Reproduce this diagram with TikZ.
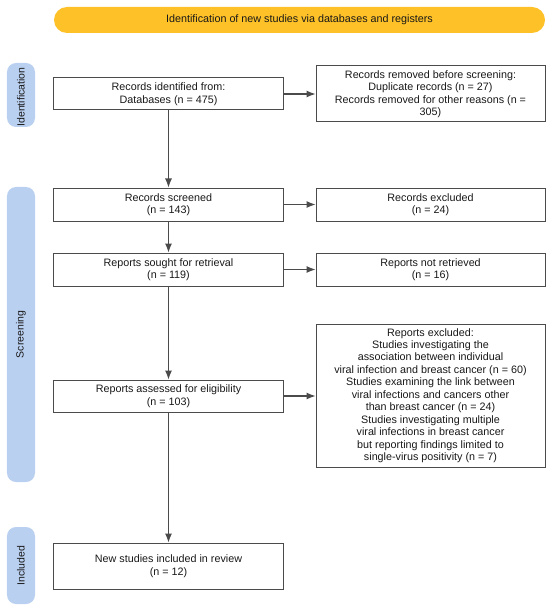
\documentclass[tikz,border=0pt]{standalone}
\usepackage{fontspec}
\setmainfont{Liberation Sans}
\usetikzlibrary{arrows.meta}
\definecolor{bannerc}{RGB}{254,193,39}
\definecolor{labc}{RGB}{186,208,240}
\definecolor{linec}{RGB}{75,75,75}
\definecolor{txtc}{RGB}{25,25,25}
\tikzset{
  box/.style={draw=linec, line width=1bp, fill=white, minimum width=229bp, inner sep=1bp,
    align=center, text=txtc, font=\fontsize{10.8}{12.5}\selectfont},
  sidelab/.style={fill=labc, rounded corners=9bp, minimum width=28bp, inner sep=0pt},
  sidetxt/.style={rotate=90, text=txtc, font=\fontsize{10.5}{12}\selectfont},
  arr/.style={draw=linec, line width=1.1bp, -{Latex[length=9bp,width=7bp]}}
}
\begin{document}
\begin{tikzpicture}[x=1bp,y=-1bp]
\useasboundingbox (0,0) rectangle (550,611);
\node[fill=bannerc, rounded corners=13bp, minimum width=491bp, minimum height=26bp, inner sep=0pt,
  text=txtc, font=\fontsize{10.8}{12}\selectfont] (banner) at (299.5,20)
  {Identification of new studies via databases and registers};
\node[sidelab, minimum height=64bp] (idlab) at (21,95) {};
\begin{scope}
\clip[rounded corners=9bp] (idlab.south west) rectangle (idlab.north east);
\node[sidetxt] (idtxt) at ([yshift=-2bp]idlab.center) {Identification};
\end{scope}
\node[sidelab, minimum height=295bp] (sclab) at (21,334.5) {};
\node[sidetxt] (sctxt) at (sclab.center) {Screening};
\node[sidelab, minimum height=77bp] (inlab) at (21,565.5) {};
\node[sidetxt] (intxt) at (inlab.center) {Included};

\node[box, minimum height=32bp] (b1) at (168.5,94) {Records identified from:\\Databases (n = 475)};
\node[box, minimum height=56bp] (r1) at (430.5,94) {Records removed before screening:\\Duplicate records (n = 27)\\Records removed for other reasons (n =\\305)};
\node[box, minimum height=33bp] (b2) at (168.5,204.5) {Records screened\\(n = 143)};
\node[box, minimum height=33bp] (r2) at (430.5,204.5) {Records excluded\\(n = 24)};
\node[box, minimum height=33bp] (b3) at (168.5,269.5) {Reports sought for retrieval\\(n = 119)};
\node[box, minimum height=33bp] (r3) at (430.5,269.5) {Reports not retrieved\\(n = 16)};
\node[box, minimum height=32bp] (b4) at (168.5,396) {Reports assessed for eligibility\\(n = 103)};
\node[box, minimum height=143bp] (r4) at (430.5,395.5) {Reports excluded:\\Studies investigating the\\association between individual\\viral infection and breast cancer (n = 60)\\Studies examining the link between\\viral infections and cancers other\\than breast cancer (n = 24)\\Studies investigating multiple\\viral infections in breast cancer\\but reporting findings limited to\\single-virus positivity (n = 7)};
\node[box, minimum height=46bp] (b5) at (168.5,566) {New studies included in review\\(n = 12)};

\draw[arr] (b1) -- (b2);
\draw[arr] (b2) -- (b3);
\draw[arr] (b3) -- (b4);
\draw[arr] (b4) -- (b5);
\draw[arr] (b1) -- (r1);
\draw[arr] (b2) -- (r2);
\draw[arr] (b3) -- (r3);
\draw[arr] (b4.east) -- (b4.east -| r4.west);
\end{tikzpicture}
\end{document}
